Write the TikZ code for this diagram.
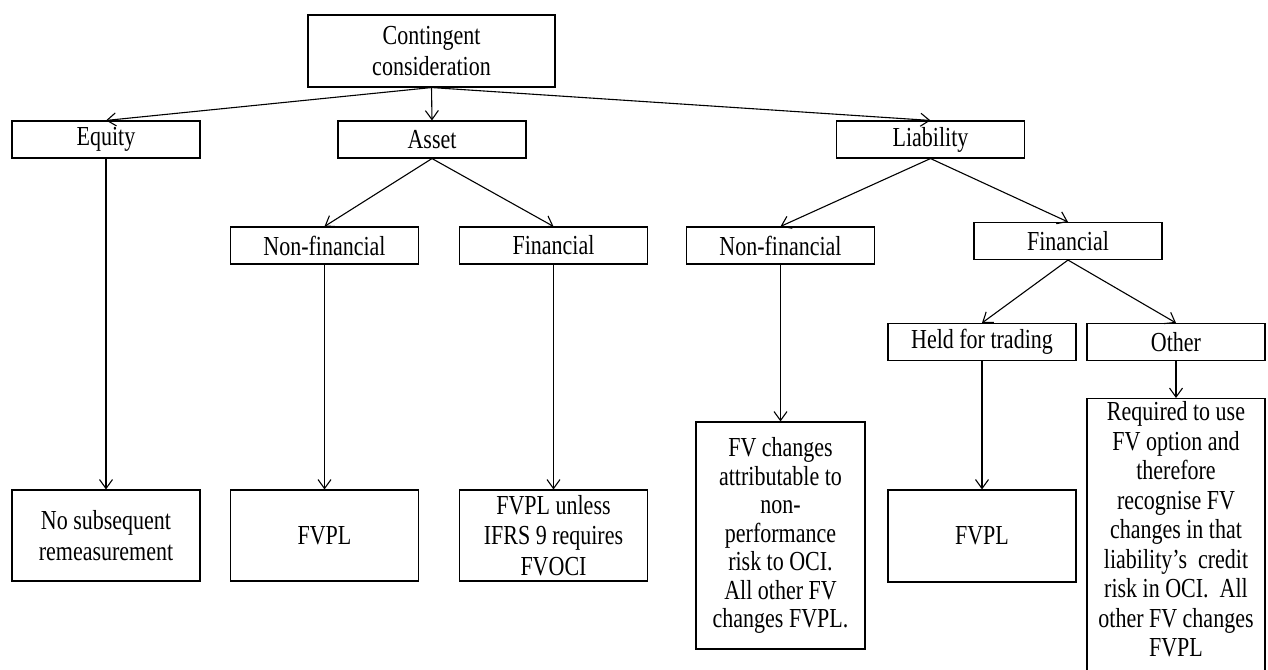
\documentclass[tikz,border=0pt]{standalone}
\usepackage{fontspec}
\setmainfont{Liberation Serif}[FakeStretch=0.8]
\usetikzlibrary{arrows.meta}

\begin{document}
\begin{tikzpicture}[x=1pt,y=-1pt,>={Straight Barb[length=9pt,width=13pt]},
  box/.style={draw,line width=1.1pt,inner sep=3pt,align=center,
    minimum width=188pt,minimum height=37pt,
    font=\fontsize{27.5}{30.5}\selectfont},
  link/.style={->,line width=1.1pt}]

\useasboundingbox (0,0) rectangle (1268,669);

\node[box,minimum width=247pt,minimum height=72pt] (cc) at (431.5,51) {Contingent\\consideration};

\node[box] (equity) at (106,139.5) {Equity};
\node[box] (asset) at (432,139.5) {Asset};
\node[box] (liab) at (930.5,139.5) {Liability};

\node[box] (nfa) at (324.5,245.5) {Non-financial};
\node[box] (fa) at (553.5,245.5) {Financial};
\node[box] (nfl) at (780.5,245.5) {Non-financial};
\node[box] (fl) at (1068,241) {Financial};

\node[box] (held) at (982,342) {Held for trading};
\node[box,minimum width=178pt] (other) at (1176,342) {Other};

\node[box,minimum height=91pt] (rem) at (106,535.5) {No subsequent\\remeasurement};
\node[box,minimum height=91pt] (fvpla) at (324.5,535.5) {FVPL};
\node[box,minimum height=91pt] (fvoci) at (553.5,535.5) {FVPL unless\\IFRS 9 requires\\FVOCI};
\node[box,minimum width=169pt,minimum height=227pt,font=\fontsize{27.5}{28.5}\selectfont] (fvnp) at (780.5,535.5)
  {FV changes\\attributable to\\non-\\performance\\risk to OCI.\\All other FV\\changes FVPL.};
\node[box,minimum height=92pt] (fvht) at (982,536) {FVPL};
% runs off the bottom edge
\node[box,minimum width=178pt,anchor=north,font=\fontsize{27.5}{29.5}\selectfont] (req) at (1176,398)
  {Required to use\\FV option and\\therefore\\recognise FV\\changes in that\\liability’s~ credit\\risk in OCI.~ All\\other FV changes\\FVPL\rule[-25pt]{0pt}{25pt}};

% top level
\draw[link] (cc.south) -- (equity.north);
\draw[link] (cc.south) -- (asset.north);
\draw[link] (cc.south) -- (liab.north);

\draw[link] (asset.south) -- (nfa.north);
\draw[link] (asset.south) -- (fa.north);
\draw[link] (liab.south) -- (nfl.north);
\draw[link] (liab.south) -- (fl.north);
\draw[link] (fl.south) -- (held.north);
\draw[link] (fl.south) -- (other.north);

% down to the outcomes
\draw[link] (equity) -- (rem);
\draw[link] (nfa) -- (fvpla);
\draw[link] (fa) -- (fvoci);
\draw[link] (nfl) -- (fvnp);
\draw[link] (held) -- (fvht);
\draw[link] (other) -- (req);

\end{tikzpicture}
\end{document}
